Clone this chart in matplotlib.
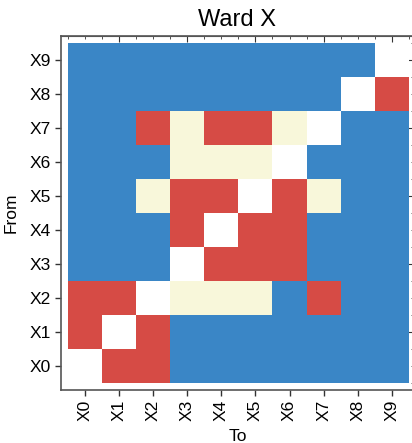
import numpy as np
import matplotlib
matplotlib.use("Agg")
import matplotlib.pyplot as plt
from matplotlib.colors import ListedColormap, BoundaryNorm
from matplotlib.ticker import MultipleLocator, FixedLocator

plt.rcParams['font.family'] = ['Liberation Sans', 'DejaVu Sans']

labels = ["X0", "X1", "X2", "X3", "X4", "X5", "X6", "X7", "X8", "X9"]
# codes: 0 = self (white), 1 = blue, 2 = red, 3 = cream
row_X0 = [0, 2, 2, 1, 1, 1, 1, 1, 1, 1]
row_X1 = [2, 0, 2, 1, 1, 1, 1, 1, 1, 1]
row_X2 = [2, 2, 0, 3, 3, 3, 1, 2, 1, 1]
row_X3 = [1, 1, 1, 0, 2, 2, 2, 1, 1, 1]
row_X4 = [1, 1, 1, 2, 0, 2, 2, 1, 1, 1]
row_X5 = [1, 1, 3, 2, 2, 0, 2, 3, 1, 1]
row_X6 = [1, 1, 1, 3, 3, 3, 0, 1, 1, 1]
row_X7 = [1, 1, 2, 3, 2, 2, 3, 0, 1, 1]
row_X8 = [1, 1, 1, 1, 1, 1, 1, 1, 0, 2]
row_X9 = [1, 1, 1, 1, 1, 1, 1, 1, 1, 0]

M = np.array([row_X0, row_X1, row_X2, row_X3, row_X4,
              row_X5, row_X6, row_X7, row_X8, row_X9])

cmap = ListedColormap(["#ffffff", "#3a86c6", "#d64b45", "#f8f7da"])
norm = BoundaryNorm([-0.5, 0.5, 1.5, 2.5, 3.5], cmap.N)

fig = plt.figure(figsize=(4.12, 4.43), dpi=100)
W, H = 412, 443
ax = fig.add_axes([61 / W, (H - 390) / H, (414 - 61) / W, (390 - 36) / H])

n = len(labels)
ax.pcolormesh(np.arange(n + 1) - 0.5, np.arange(n + 1) - 0.5, M,
              cmap=cmap, norm=norm, shading='flat')
ax.set_xlim(-0.7, 9.65)
ax.set_ylim(-0.7, 9.7)

ax.set_xticks(range(n))
ax.set_xticklabels(labels, rotation=90, fontsize=12.5)
ax.set_yticks(range(n))
ax.set_yticklabels(labels, fontsize=12.5)

ax.tick_params(axis='both', which='major', direction='out', length=4,
               width=1, color='#333333', pad=3)

# secondary axes for inward ticks top/right
axt = ax.secondary_xaxis('top')
axt.xaxis.set_major_locator(FixedLocator([1, 3, 5, 7, 9]))
axt.xaxis.set_minor_locator(MultipleLocator(0.5))
axt.tick_params(which='major', direction='in', length=4, labeltop=False, color='#333333')
axt.tick_params(which='minor', direction='in', length=2, color='#333333')
axt.spines['top'].set_color('#555555')

axr = ax.secondary_yaxis('right')
axr.yaxis.set_major_locator(FixedLocator([1, 3, 5, 7, 9]))
axr.yaxis.set_minor_locator(MultipleLocator(0.5))
axr.tick_params(which='major', direction='in', length=4, labelright=False, color='#333333')
axr.tick_params(which='minor', direction='in', length=2, color='#333333')

for s in ax.spines.values():
    s.set_color('#555555')
    s.set_linewidth(1.2)

ax.set_xlabel("To", fontsize=12.5, labelpad=6)
ax.set_ylabel("From", fontsize=12.5, labelpad=8)
fig.text((61 + 412) / 2 / W + 0.0, (H - 20) / H, "Ward X", fontsize=17,
         ha='center', va='center')

fig.savefig("out.png", dpi=100)
